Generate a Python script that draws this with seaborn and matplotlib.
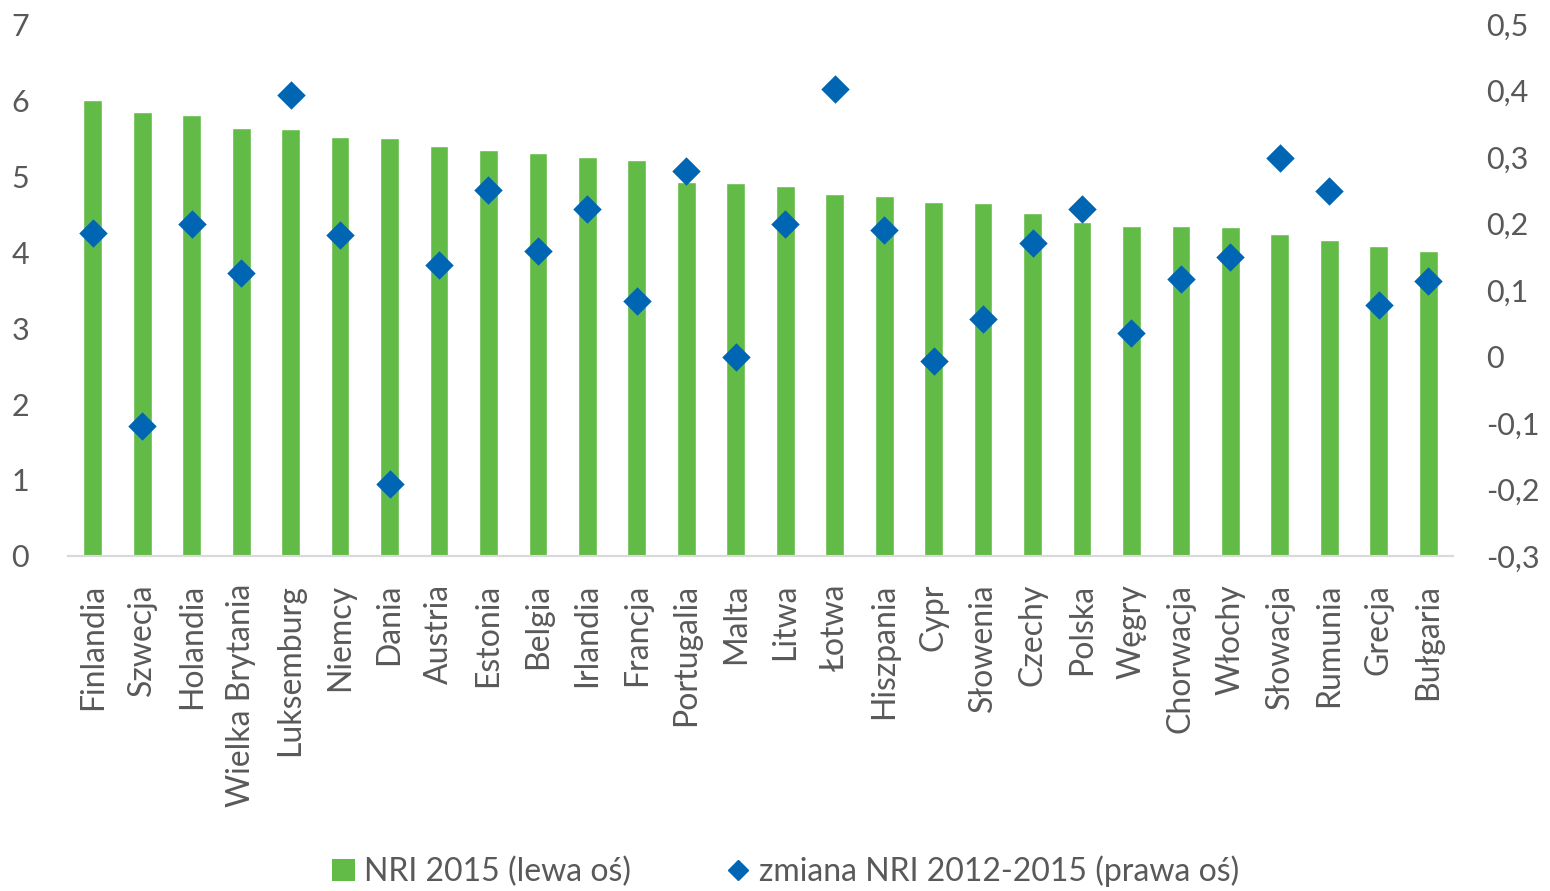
import matplotlib
matplotlib.use("Agg")
import matplotlib.pyplot as plt
import matplotlib.ticker as mticker
from matplotlib.lines import Line2D
from matplotlib.patches import Patch
import seaborn as sns
import pandas as pd

countries = [
    "Finlandia", "Szwecja", "Holandia", "Wielka Brytania", "Luksemburg",
    "Niemcy", "Dania", "Austria", "Estonia", "Belgia", "Irlandia", "Francja",
    "Portugalia", "Malta", "Litwa", "Łotwa", "Hiszpania", "Cypr", "Słowenia",
    "Czechy", "Polska", "Węgry", "Chorwacja", "Włochy", "Słowacja", "Rumunia",
    "Grecja", "Bułgaria",
]
nri_2015 = [
    6.00, 5.84, 5.80, 5.63, 5.62, 5.51, 5.50, 5.39, 5.34, 5.30, 5.25, 5.21,
    4.92, 4.91, 4.87, 4.76, 4.74, 4.66, 4.64, 4.51, 4.39, 4.34, 4.34, 4.33,
    4.24, 4.16, 4.08, 4.01,
]
nri_change = [
    0.186, -0.105, 0.200, 0.125, 0.393, 0.182, -0.192, 0.138, 0.251, 0.159,
    0.222, 0.083, 0.279, 0.000, 0.199, 0.402, 0.191, -0.007, 0.057, 0.170,
    0.222, 0.036, 0.116, 0.150, 0.299, 0.249, 0.078, 0.113,
]
left_ticks = [0, 1, 2, 3, 4, 5, 6, 7]
right_ticks = [-0.3, -0.2, -0.1, 0.0, 0.1, 0.2, 0.3, 0.4, 0.5]

bar_label = "NRI 2015 (lewa oś)"
point_label = "zmiana NRI 2012-2015 (prawa oś)"

GREEN = "#62BB46"
BLUE = "#0066B3"
TEXT = "#595959"

sns.set_theme(style="white")
plt.rcParams["font.family"] = ["Lato", "DejaVu Sans"]

df = pd.DataFrame({"kraj": countries, "nri": nri_2015, "zmiana": nri_change})

fig = plt.figure(figsize=(15.5, 8.91), dpi=100)
ax = fig.add_axes([0.0439, 0.376, 0.8935, 0.597])

sns.barplot(data=df, x="kraj", y="nri", color=GREEN, width=0.38,
            saturation=1, ax=ax, zorder=2)
ax.set_xlim(-0.5, len(countries) - 0.5)
ax.set_ylim(0, 7)
ax.set_yticks(left_ticks)
ax.set_xlabel("")
ax.set_ylabel("")

ax2 = ax.twinx()
sns.scatterplot(data=df, x="kraj", y="zmiana", marker="D", s=210,
                color=BLUE, linewidth=0, ax=ax2, zorder=3)
ax2.set_ylim(-0.3, 0.5)
ax2.set_yticks(right_ticks)
ax2.yaxis.set_major_formatter(mticker.FuncFormatter(
    lambda v, _: "0" if abs(v) < 1e-9 else f"{v:.1f}".replace(".", ",")))
ax2.set_ylabel("")
ax2.set_xlim(-0.5, len(countries) - 0.5)

for a in (ax, ax2):
    for side in ("top", "left", "right"):
        a.spines[side].set_visible(False)
    a.spines["bottom"].set_color("#D9D9D9")
    a.spines["bottom"].set_linewidth(1.5)
    a.tick_params(length=0, labelsize=23, labelcolor=TEXT)
ax.tick_params(axis="y", pad=28, labelsize=22)
ax2.tick_params(axis="y", pad=24, labelsize=22)
ax.tick_params(axis="x", pad=20)
plt.setp(ax.get_xticklabels(), rotation=90)
ax.set_zorder(1)
ax2.set_zorder(2)

handles = [
    Patch(facecolor=GREEN, edgecolor="none"),
    Line2D([], [], marker="D", linestyle="none", color=BLUE, markersize=10),
]
fig.legend(handles, [bar_label, point_label], loc="center",
           bbox_to_anchor=(0.507, 0.022), ncol=2, frameon=False,
           fontsize=23, labelcolor=TEXT, columnspacing=3.0,
           handlelength=0.7, handletextpad=0.3, handleheight=0.7)

fig.savefig("out.png", dpi=100)
